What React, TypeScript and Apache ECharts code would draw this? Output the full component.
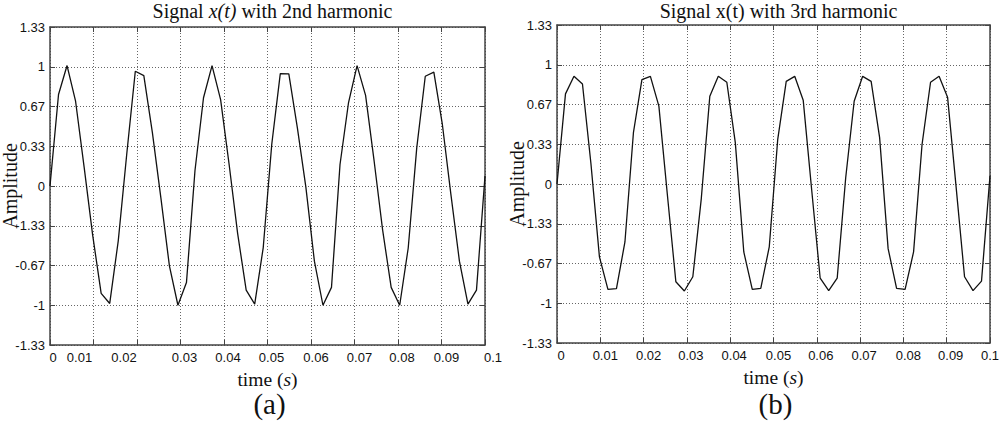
import React, { useEffect, useRef } from 'react';
import * as echarts from 'echarts';

// ---- data ----
const timeSeconds = [
  0, 0.00196, 0.00392, 0.00588, 0.00784, 0.0098, 0.01176, 0.01373, 0.01569, 0.01765,
  0.01961, 0.02157, 0.02353, 0.02549, 0.02745, 0.02941, 0.03137, 0.03333, 0.03529, 0.03725,
  0.03922, 0.04118, 0.04314, 0.0451, 0.04706, 0.04902, 0.05098, 0.05294, 0.0549, 0.05686,
  0.05882, 0.06078, 0.06275, 0.06471, 0.06667, 0.06863, 0.07059, 0.07255, 0.07451, 0.07647,
  0.07843, 0.08039, 0.08235, 0.08431, 0.08627, 0.08824, 0.0902, 0.09216, 0.09412, 0.09608,
  0.09804, 0.1,
];

const secondHarmonic = [
  0, 0.767, 1.01, 0.711, 0.16, -0.41, -0.9, -0.985, -0.46, 0.27,
  0.962, 0.926, 0.45, -0.1, -0.67, -1.0, -0.81, 0.13, 0.74, 1.01,
  0.725, 0.18, -0.4, -0.873, -0.99, -0.516, 0.35, 0.943, 0.94, 0.49,
  -0.01, -0.63, -1.0, -0.85, 0.18, 0.7, 1.01, 0.76, 0.21, -0.37,
  -0.85, -1.0, -0.52, 0.32, 0.92, 0.955, 0.516, -0.07, -0.63, -0.99,
  -0.873, 0.084,
];

const thirdHarmonic = [
  0, 0.756, 0.903, 0.839, 0.17, -0.611, -0.883, -0.878, -0.486, 0.43,
  0.875, 0.903, 0.653, -0.09, -0.82, -0.897, -0.778, -0.12, 0.736, 0.903,
  0.853, 0.347, -0.57, -0.883, -0.875, -0.528, 0.375, 0.861, 0.903, 0.703,
  -0.05, -0.79, -0.894, -0.79, 0.05, 0.694, 0.903, 0.861, 0.389, -0.542,
  -0.875, -0.883, -0.57, 0.333, 0.853, 0.903, 0.728, -0.02, -0.778, -0.894,
  -0.814, 0.069,
];

const xTickLabels = ['0', '0.01', '0.02', '0.03', '0.04', '0.05', '0.06', '0.07', '0.08', '0.09', '0.1'];
// bottom to top, as printed in the reference
const yTickLabels = ['-1.33', '-1', '-0.67', '-1.33', '0', '0.33', '0.67', '1', '1.33'];

const panelTitles = ['Signal {i|x(t)} with 2nd harmonic', 'Signal x(t) with 3rd harmonic'];
const panelLetters = ['(a)', '(b)'];
const xAxisName = 'time ({i|s})';
const yAxisName = 'Amplitude';

// ---- layout / style ----
const SERIF = '"Liberation Serif", "Times New Roman", serif';
const SANS = '"Liberation Sans", Arial, sans-serif';
const FRAME = '#444';
const grids = [
  { left: 50, top: 27, width: 435, height: 318 },
  { left: 557, top: 25, width: 433, height: 318 },
];
const xLabelShift = [
  [3, -14, -13, 4, 4, 4, 5, 5, 4, 5, 8],
  [4, 5, 5, 4, 4, 5, 4, 4, 5, 4, 0],
];

function buildOption() {
  const seriesValues = [secondHarmonic, thirdHarmonic];
  const xAxes: any[] = [];
  const yAxes: any[] = [];
  const series: any[] = [];
  const titles: any[] = [];

  grids.forEach((g, gi) => {
    const rich: any = {};
    xLabelShift[gi].forEach((d, i) => {
      rich['p' + i] = {
        fontFamily: SANS,
        fontSize: 13,
        lineHeight: 13,
        color: '#111',
        padding: d >= 0 ? [0, 0, 0, 2 * d] : [0, -2 * d, 0, 0],
      };
    });
    rich.i = { fontFamily: SERIF, fontSize: 19.5, fontStyle: 'italic', color: '#111' };

    const axisLine = { show: true, onZero: false, lineStyle: { color: FRAME, width: 1.5 } };
    const axisTick = { show: true, inside: true, length: 5, lineStyle: { color: FRAME, width: 1 } };
    const split = { show: true, lineStyle: { color: '#666', width: 1, type: [1, 2] } };

    xAxes.push({
      type: 'value', gridIndex: gi, position: 'bottom',
      min: 0, max: 0.1, interval: 0.01,
      axisLine, axisTick, splitLine: split,
      axisLabel: {
        show: true, margin: 6, fontFamily: SANS, fontSize: 13, lineHeight: 13, color: '#111',
        showMinLabel: true, showMaxLabel: true,
        alignMinLabel: 'center', alignMaxLabel: 'center', hideOverlap: false,
        formatter: (v: number) => {
          const i = Math.round(v * 100);
          return `{p${i}|${xTickLabels[i]}}`;
        },
        rich,
      },
      name: xAxisName, nameLocation: 'middle', nameGap: 24, nameMoveOverlap: false,
      nameTextStyle: { fontFamily: SERIF, fontSize: 19.5, color: '#111', rich: { i: rich.i } },
    });
    xAxes.push({
      type: 'value', gridIndex: gi, position: 'top',
      min: 0, max: 0.1, interval: 0.01,
      axisLine, axisTick, splitLine: { show: false }, axisLabel: { show: false },
    });
    yAxes.push({
      type: 'value', gridIndex: gi, position: 'left',
      min: -4 / 3, max: 4 / 3, interval: 1 / 3,
      axisLine, axisTick, splitLine: split,
      axisLabel: {
        show: true, margin: 5, fontFamily: SANS, fontSize: 13, lineHeight: 10, color: '#111',
        showMinLabel: true, showMaxLabel: true,
        formatter: (v: number) => yTickLabels[Math.round(v * 3) + 4] ?? '',
      },
      name: yAxisName, nameLocation: 'middle', nameGap: 30, nameMoveOverlap: false,
      nameTextStyle: { fontFamily: SERIF, fontSize: 20, lineHeight: 20, color: '#111' },
    });
    yAxes.push({
      type: 'value', gridIndex: gi, position: 'right',
      min: -4 / 3, max: 4 / 3, interval: 1 / 3,
      axisLine, axisTick, splitLine: { show: false }, axisLabel: { show: false },
    });

    series.push({
      type: 'line',
      xAxisIndex: gi * 2,
      yAxisIndex: gi * 2,
      data: timeSeconds.map((t, k) => [t, seriesValues[gi][k]]),
      symbol: 'none',
      lineStyle: { color: '#111', width: 1.3 },
      silent: true,
    });

    const cx = g.left + g.width / 2;
    titles.push({
      text: panelTitles[gi],
      left: cx, top: -4, textAlign: 'center',
      textStyle: {
        fontFamily: SERIF, fontSize: 20, fontWeight: 'normal', color: '#111',
        rich: { i: { fontFamily: SERIF, fontSize: 20, fontStyle: 'italic', color: '#111' } },
      },
    });
    titles.push({
      text: panelLetters[gi],
      left: cx - 3, top: 384, textAlign: 'center',
      textStyle: { fontFamily: SERIF, fontSize: 29, fontWeight: 'normal', color: '#111' },
    });
  });

  return {
    animation: false,
    backgroundColor: '#fff',
    title: titles,
    grid: grids.map((g) => ({ ...g, containLabel: false, outerBoundsMode: 'none' })),
    xAxis: xAxes,
    yAxis: yAxes,
    series,
  };
}

export default function App() {
  const ref = useRef<HTMLDivElement>(null);
  useEffect(() => {
    if (!ref.current) return;
    const chart = echarts.init(ref.current, undefined, { renderer: 'svg' });
    chart.setOption(buildOption() as any);
    return () => chart.dispose();
  }, []);
  return (
    <div
      ref={ref}
      style={{ position: 'fixed', left: 0, top: 0, width: 1000, height: 422, background: '#fff' }}
    />
  );
}
